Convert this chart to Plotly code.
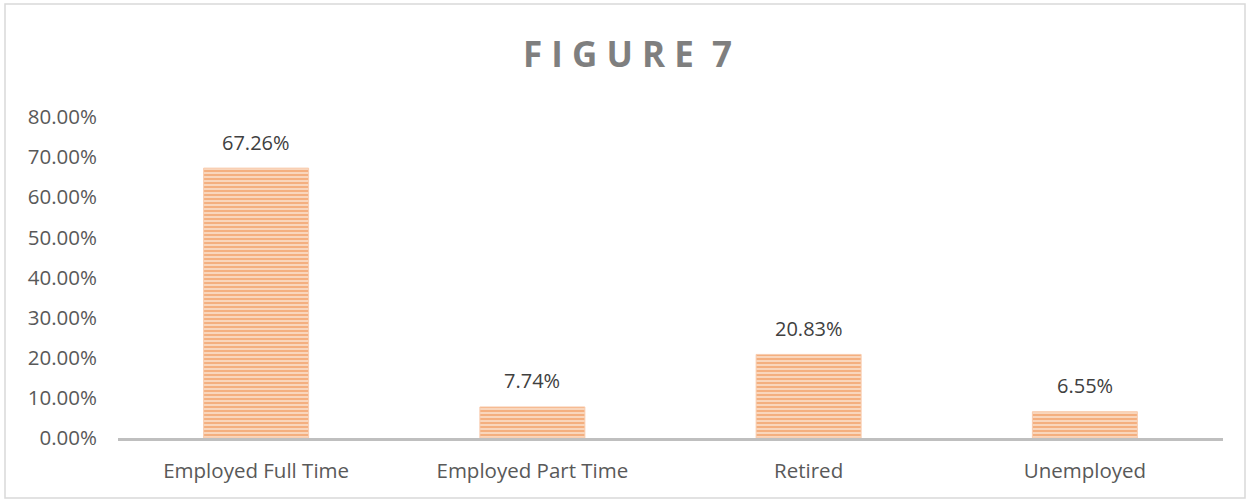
import plotly.graph_objects as go

categories = ["Employed Full Time", "Employed Part Time", "Retired", "Unemployed"]
values = [0.6726, 0.0774, 0.2083, 0.0655]
y_ticks = [0, 0.1, 0.2, 0.3, 0.4, 0.5, 0.6, 0.7, 0.8]
title_text = "F I G U R E  7"

W, H = 1250, 501
L, R, T, B = 118, 27, 117, 63
FONT = "Open Sans"

fig = go.Figure(go.Bar(
    x=categories, y=values,
    marker=dict(
        color="#FBE0CC",
        line=dict(color="#F8CBAD", width=1),
        pattern=dict(shape="-", fgcolor="#ED7D31", bgcolor="#FBE0CC", size=4, solidity=0.6),
    ),
    hoverinfo="skip",
))

for c, v in zip(categories, values):
    fig.add_annotation(x=c, y=v, text=f"{v*100:.2f}%", showarrow=False,
                       yanchor="middle", yshift=26,
                       font=dict(family=FONT, size=20, color="#404040"))

pw, ph = W - L - R, H - T - B
fig.update_layout(
    width=W, height=H,
    margin=dict(l=L, r=R, t=T, b=B),
    paper_bgcolor="white", plot_bgcolor="white",
    bargap=0.62,
    showlegend=False,
    title=dict(text=title_text, x=0.502, xanchor="center", y=1 - 55 / H, yanchor="middle",
               font=dict(family=FONT, size=35, color="#7F7F7F", weight="bold")),
    xaxis=dict(showline=True, linecolor="#BFBFBF", linewidth=3, showgrid=False, ticks="",
               ticklabelstandoff=12,
               tickfont=dict(family=FONT, size=20.5, color="#595959")),
    yaxis=dict(range=[0, 0.8], tickvals=y_ticks, tickformat=".2%", showgrid=False,
               showline=False, zeroline=False, ticks="", ticklabelstandoff=20,
               tickfont=dict(family=FONT, size=20.5, color="#595959")),
    shapes=[dict(type="rect", xref="paper", yref="paper",
                 x0=(5 - L) / pw, x1=(1245 - L) / pw,
                 y0=(H - B - 498) / ph, y1=(H - B - 4) / ph,
                 line=dict(color="#D9D9D9", width=1.5), layer="below")],
)

fig.write_html("out.html", config={"displayModeBar": False},
               post_script="document.body.style.margin='0';document.body.style.overflow='hidden';")
